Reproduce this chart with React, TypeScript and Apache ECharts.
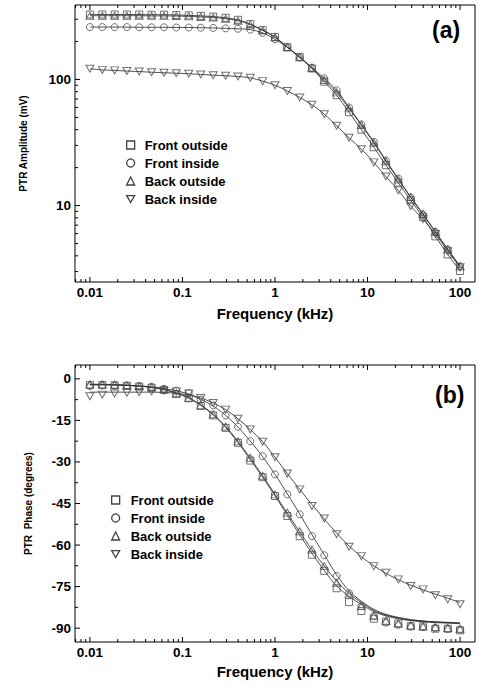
import React, { useEffect, useRef } from "react";
import * as echarts from "echarts";

// ---------- data ----------
const freqs = [0.01, 0.0136, 0.0185, 0.0251, 0.0341, 0.0464, 0.0631, 0.0858, 0.117, 0.158, 0.215, 0.293, 0.398, 0.541, 0.736, 1, 1.36, 1.85, 2.51, 3.41, 4.64, 6.31, 8.58, 11.7, 15.8, 21.5, 29.3, 39.8, 54.1, 73.6, 100];

const seriesNames = ["Front outside", "Front inside", "Back outside", "Back inside"];

// PTR amplitude (mV)
const ampFrontOutside = [327, 327, 327, 327, 327, 326, 326, 324, 322, 319, 315, 308, 297, 275, 246, 217, 180, 151, 122, 96, 75, 55, 40, 29, 20.9, 15.2, 11.0, 8.1, 5.7, 4.1, 3.03];
const ampFrontInside = [260, 260, 260, 260, 259, 259, 259, 258, 258, 257, 256, 254, 252, 248, 234, 208, 180, 149, 124, 102, 82, 60, 44, 32, 22.8, 16.4, 11.6, 8.5, 6.2, 4.5, 3.3];
const ampBackOutside = [320, 320, 320, 320, 320, 319, 319, 318, 316, 313, 310, 303, 292, 272, 245, 216, 180, 150, 123, 99, 79, 59, 43.5, 31.5, 22.5, 16.1, 11.7, 8.6, 6.2, 4.5, 3.3];
const ampBackInside = [121.5, 119, 118, 116.5, 115.5, 114, 113, 112, 111, 109.5, 108, 107, 105.5, 103, 97, 90, 81, 72, 63, 53, 43, 34.5, 28, 22, 17, 13.2, 9.9, 7.8, 5.95, 4.35, 3.25];

// PTR phase (degrees) - measured points
const phFrontOutside = [-2.2, -2.2, -2.3, -2.5, -2.8, -3.2, -4.0, -5.5, -7.0, -9.8, -13.2, -17.7, -23.1, -29.5, -35.5, -42.3, -49.5, -56.8, -63.5, -69.3, -75.6, -80.6, -83.8, -86.6, -87.6, -88.3, -89.3, -89.3, -90.2, -90.2, -90.8];
const phFrontInside = [-2.6, -2.4, -2.4, -2.5, -2.6, -2.9, -3.6, -4.2, -5.1, -7.5, -9.6, -13.2, -17.3, -22.5, -27.9, -34.5, -41.7, -48.9, -56.8, -63.7, -71.2, -77.4, -82.0, -85.6, -88.0, -88.8, -89.4, -89.6, -90.0, -90.2, -90.5];
const phBackOutside = [-2.0, -2.0, -2.1, -2.3, -2.6, -3.0, -3.8, -5.2, -6.8, -9.5, -12.8, -17.2, -22.5, -28.5, -35.0, -41.7, -48.3, -55.0, -61.6, -67.6, -73.6, -77.8, -82.0, -85.5, -87.3, -88.3, -89.0, -89.4, -89.6, -90.0, -90.2];
const phBackInside = [-6.3, -5.7, -5.3, -5.0, -4.8, -4.5, -4.3, -4.6, -5.3, -6.9, -8.7, -11.1, -14.4, -18.3, -22.7, -28.3, -34.2, -39.9, -45.9, -50.4, -56.1, -60.6, -64.0, -67.6, -70.0, -72.4, -74.8, -76.0, -78.1, -79.6, -81.4];

// PTR phase (degrees) - fitted curves
const fitPhFrontOutside = [-2.0, -2.0, -2.1, -2.3, -2.6, -3.1, -3.9, -5.2, -7.0, -9.6, -13.0, -17.5, -23.0, -29.2, -35.5, -42.2, -49.3, -56.3, -63.0, -69.2, -74.8, -78.5, -81.5, -84.0, -85.6, -86.6, -87.3, -87.7, -88.0, -88.2, -88.4];
const fitPhFrontInside = [-2.2, -2.2, -2.3, -2.4, -2.6, -2.9, -3.5, -4.3, -5.5, -7.4, -9.8, -13.2, -17.4, -22.5, -28.1, -34.5, -41.5, -48.8, -56.3, -63.5, -70.8, -76.5, -80.3, -83.2, -85.0, -86.1, -86.9, -87.4, -87.7, -87.9, -88.1];
const fitPhBackOutside = [-2.0, -2.0, -2.1, -2.3, -2.6, -3.0, -3.8, -5.1, -6.8, -9.4, -12.8, -17.2, -22.5, -28.6, -35.0, -41.7, -48.5, -55.2, -61.7, -67.6, -73.0, -77.5, -80.8, -83.6, -85.3, -86.3, -87.1, -87.5, -87.8, -88.0, -88.2];
const fitPhBackInside = [-4.8, -4.8, -4.8, -4.8, -4.8, -4.8, -4.9, -5.2, -5.8, -6.9, -8.7, -11.1, -14.4, -18.3, -22.7, -28.3, -34.2, -39.9, -45.4, -50.6, -55.7, -60.3, -64.2, -67.5, -70.2, -72.5, -74.5, -76.2, -77.7, -79.2, -80.8];

// axis ranges and ticks
const freqMin = 0.0069;
const freqMax = 145;
const ampMin = 2.48;
const ampMax = 389;
const phMin = -95;
const phMax = 5;

const freqMajorTicks = [0.01, 0.1, 1, 10, 100];
const freqMinorTicks = [0.007, 0.008, 0.009, 0.02, 0.03, 0.04, 0.05, 0.06, 0.07, 0.08, 0.09, 0.2, 0.3, 0.4, 0.5, 0.6, 0.7, 0.8, 0.9, 2, 3, 4, 5, 6, 7, 8, 9, 20, 30, 40, 50, 60, 70, 80, 90];
const ampMajorTicks = [10, 100];
const ampMinorTicks = [3, 4, 5, 6, 7, 8, 9, 20, 30, 40, 50, 60, 70, 80, 90, 200, 300];
const phMajorTicks = [-90, -75, -60, -45, -30, -15, 0];
const phMinorTicks = [-82.5, -67.5, -52.5, -37.5, -22.5, -7.5];
const freqTickLabels = ["0.01", "0.1", "1", "10", "100"];
const ampTickLabels = ["10", "100"];
const phTickLabels = ["-90", "-75", "-60", "-45", "-30", "-15", "0"];

const FONT = "'Liberation Sans', Arial, Helvetica, sans-serif";
const LINE_COLOR = "#222";
const SYMBOL_COLOR = "#4d4d4d";
const symbols = ["rect", "circle", "triangle", "path://M0,0L10,0L5,8.66Z"];

export default function App() {
  const ref = useRef<HTMLDivElement>(null);

  useEffect(() => {
    if (!ref.current) return;
    const chart = echarts.init(ref.current, undefined, { renderer: "svg" });

    const ampData = [ampFrontOutside, ampFrontInside, ampBackOutside, ampBackInside];
    const phData = [phFrontOutside, phFrontInside, phBackOutside, phBackInside];
    const phFit = [fitPhFrontOutside, fitPhFrontInside, fitPhBackOutside, fitPhBackInside];

    const logLabel = (labels: string[], majors: number[]) => (v: number) => {
      for (let i = 0; i < majors.length; i++) {
        if (Math.abs(Math.log10(v) - Math.log10(majors[i])) < 1e-6) return labels[i];
      }
      return "";
    };
    const linLabel = (v: number) => {
      const i = phMajorTicks.findIndex((t) => Math.abs(t - v) < 1e-6);
      return i >= 0 ? phTickLabels[i] : "";
    };

    const axisLabelStyle = { fontFamily: FONT, fontSize: 13.5, fontWeight: "bold" as const, color: "#000" };

    const makeTickSeries = (gi: number, yLo: number, yHi: number, yMid: number, yMajors: number[], yMinors: number[], xMid: number) => {
      const data: number[][] = [];
      freqMajorTicks.forEach((t) => data.push([t, yMid, 1, 0]));
      freqMinorTicks.forEach((t) => data.push([t, yMid, 0, 0]));
      yMajors.forEach((t) => data.push([xMid, t, 1, 1]));
      yMinors.forEach((t) => data.push([xMid, t, 0, 1]));
      return {
        type: "custom",
        xAxisIndex: gi,
        yAxisIndex: gi,
        silent: true,
        z: 5,
        data,
        renderItem: (params: any, api: any) => {
          const x = api.value(0);
          const y = api.value(1);
          const major = api.value(2);
          const kind = api.value(3);
          const len = major ? 5 : 3;
          const st = { stroke: "#000", lineWidth: 1 };
          if (kind === 0) {
            const pb = api.coord([x, yLo]);
            const pt = api.coord([x, yHi]);
            return {
              type: "group",
              children: [
                { type: "line", shape: { x1: pb[0], y1: pb[1], x2: pb[0], y2: pb[1] - len }, style: st },
                { type: "line", shape: { x1: pt[0], y1: pt[1], x2: pt[0], y2: pt[1] + len }, style: st },
              ],
            };
          }
          const pl = api.coord([freqMin, y]);
          return {
            type: "line",
            shape: { x1: pl[0], y1: pl[1], x2: pl[0] + len, y2: pl[1] },
            style: st,
          };
        },
      };
    };

    const series: any[] = [];
    [0, 1].forEach((gi) => {
      for (let s = 0; s < 4; s++) {
        const fit = gi === 0 ? ampData[s] : phFit[s];
        const pts = gi === 0 ? ampData[s] : phData[s];
        series.push({
          type: "line",
          name: "fit" + gi + "_" + s,
          xAxisIndex: gi,
          yAxisIndex: gi,
          data: freqs.map((f, k) => [f, fit[k]]),
          showSymbol: false,
          symbol: "none",
          smooth: 0.3,
          lineStyle: { color: LINE_COLOR, width: 0.8 },
          silent: true,
          z: 2,
        });
        series.push({
          type: "scatter",
          name: seriesNames[s],
          xAxisIndex: gi,
          yAxisIndex: gi,
          data: freqs.map((f, k) => [f, pts[k]]),
          symbol: symbols[s],
          symbolSize: s >= 2 ? [8, 7] : 7,
          itemStyle: { color: "rgba(255,255,255,0)", borderColor: SYMBOL_COLOR, borderWidth: 1 },
          silent: true,
          z: 3,
        });
      }
    });
    series.push(makeTickSeries(0, ampMin, ampMax, 30, ampMajorTicks, ampMinorTicks, 1));
    series.push(makeTickSeries(1, phMin, phMax, -45, phMajorTicks, phMinorTicks, 1));

    const legendCommon = {
      data: seriesNames,
      orient: "vertical",
      itemWidth: 8,
      itemHeight: 8,
      itemGap: 4,
      selectedMode: false,
      itemStyle: { borderWidth: 1.3, borderColor: "#111", color: "rgba(255,255,255,0)" },
    };

    const xAxisCommon = {
      type: "log",
      logBase: 10,
      min: freqMin,
      max: freqMax,
      axisLine: { show: false },
      axisTick: { show: false },
      splitLine: { show: false },
      minorTick: { show: false },
      axisLabel: { ...axisLabelStyle, margin: 3, formatter: logLabel(freqTickLabels, freqMajorTicks) },
      name: "Frequency (kHz)",
      nameLocation: "middle",
      nameGap: 24,
      nameTextStyle: { fontFamily: FONT, fontSize: 15, fontWeight: "bold", color: "#000" },
    };

    const option: any = {
      animation: false,
      backgroundColor: "#fff",
      grid: [
        { left: 75, top: 5, right: 2, height: 277, show: true, borderColor: "#000", borderWidth: 1, containLabel: false },
        { left: 75, top: 365, right: 2, height: 277, show: true, borderColor: "#000", borderWidth: 1, containLabel: false },
      ],
      xAxis: [
        { ...xAxisCommon, gridIndex: 0 },
        { ...xAxisCommon, gridIndex: 1, nameGap: 22 },
      ],
      yAxis: [
        {
          gridIndex: 0,
          type: "log",
          logBase: 10,
          min: ampMin,
          max: ampMax,
          axisLine: { show: false },
          axisTick: { show: false },
          splitLine: { show: false },
          axisLabel: { ...axisLabelStyle, margin: 4, formatter: logLabel(ampTickLabels, ampMajorTicks) },
          name: "PTR Amplitude (mV)",
          nameLocation: "middle",
          nameGap: 47,
          nameTextStyle: { fontFamily: FONT, fontSize: 10, fontWeight: "bold", color: "#000" },
        },
        {
          gridIndex: 1,
          type: "value",
          min: phMin,
          max: phMax,
          interval: 5,
          axisLine: { show: false },
          axisTick: { show: false },
          splitLine: { show: false },
          axisLabel: { ...axisLabelStyle, margin: 4, formatter: linLabel },
          name: "PTR  Phase (degrees)",
          nameLocation: "middle",
          nameGap: 42,
          nameTextStyle: { fontFamily: FONT, fontSize: 10, fontWeight: "bold", color: "#000" },
        },
      ],
      legend: [
        {
          ...legendCommon,
          left: 121,
          top: 133,
          textStyle: { fontFamily: FONT, fontSize: 13, fontWeight: "bold", color: "#000", lineHeight: 14, padding: [0, 0, 0, 5] },
        },
        {
          ...legendCommon,
          left: 106,
          top: 488,
          textStyle: { fontFamily: FONT, fontSize: 13, fontWeight: "bold", color: "#000", lineHeight: 14, padding: [0, 0, 0, 6] },
        },
      ],
      graphic: [
        { type: "text", left: 432, top: 18, style: { text: "(a)", fontFamily: FONT, fontSize: 23, fontWeight: "bold", fill: "#000" } },
        { type: "text", left: 435, top: 383, style: { text: "(b)", fontFamily: FONT, fontSize: 23, fontWeight: "bold", fill: "#000" } },
      ],
      series,
    };

    chart.setOption(option);
    return () => chart.dispose();
  }, []);

  return (
    <div
      ref={ref}
      style={{ position: "absolute", left: 0, top: 0, width: 478, height: 685, background: "#fff" }}
    />
  );
}
